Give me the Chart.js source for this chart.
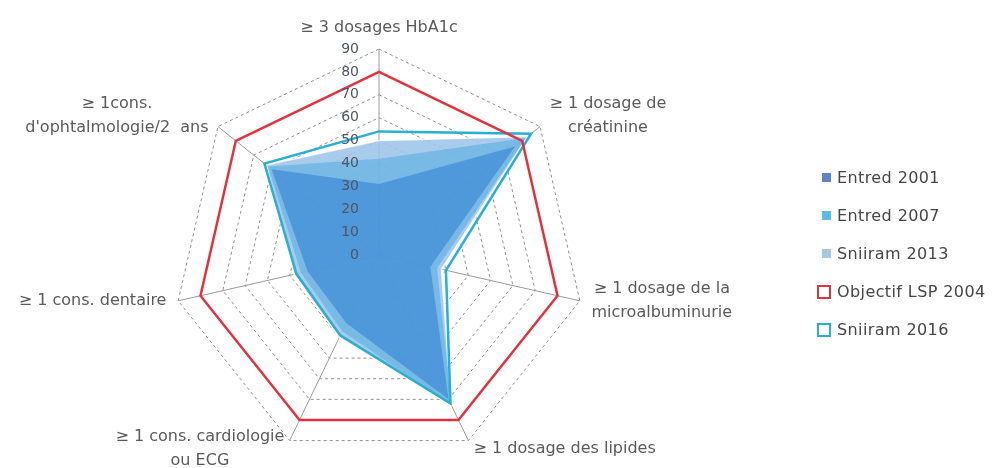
<!DOCTYPE html>
<html>
<head>
<meta charset="utf-8">
<script src="https://cdn.jsdelivr.net/npm/chart.js@4.4.1/dist/chart.umd.min.js"></script>
<style>
  html, body { margin: 0; padding: 0; background: #fff; }
  #wrap { position: relative; width: 998px; height: 468px; }
  #legend { position: absolute; left: 815px; top: 159px; font: 16px 'DejaVu Sans', sans-serif;
            color: #454545; letter-spacing: 0.4px; }
  .item { position: relative; height: 38px; line-height: 38px; padding-left: 22px; white-space: nowrap; }
  .item i { position: absolute; top: 50%; box-sizing: border-box; }
  .item i.solid { left: 7px; width: 9px; height: 9px; margin-top: -5px; }
  .item i.open  { left: 2px; width: 14px; height: 14px; margin-top: -7px; background: #fff; border: 2.5px solid; }
</style>
</head>
<body>
<div id="wrap">
  <canvas id="radar" width="998" height="468"></canvas>
  <div id="legend"></div>
</div>
<script>
// ─── Data ─────────────────────────────────────────────────────────────────────
const AXES = [
    ["≥ 3 dosages HbA1c"],
    ["≥ 1 dosage de", "créatinine"],
    ["≥ 1 dosage de la", "microalbuminurie"],
    ["≥ 1 dosage des lipides"],
    ["≥ 1 cons. cardiologie", "ou ECG"],
    ["≥ 1 cons. dentaire"],
    ["≥ 1cons.", "d'ophtalmologie/2  ans"]
];
const TICKS        = [0, 10, 20, 30, 40, 50, 60, 70, 80, 90];
const ENTRED_2001  = [31, 76, 23, 70, 33, 32, 60];
const ENTRED_2007  = [42, 82, 26, 73, 37, 35, 62];
const SNIIRAM_2013 = [50, 83, 28, 73, 40, 38, 63];
const OBJECTIF_LSP = [80, 80, 80, 80, 80, 80, 80];
const SNIIRAM_2016 = [54, 85, 30, 72, 39, 37, 64];

// ─── Style ────────────────────────────────────────────────────────────────────
const FONT      = "'DejaVu Sans', sans-serif";
const TEXT_GREY = "#5a5a5a";
const RED       = "#e2333d";
const CYAN      = "#27afd4";

// draws axis names and the 0–90 value labels (left of the vertical axis)
const labelsPlugin = {
    id: "radarText",
    afterDatasetsDraw(chart) {
        const c = chart.ctx;
        const r = chart.scales.r;
        c.save();

        // value labels
        c.font = "14px " + FONT;
        c.fillStyle = "#4d5566";
        c.textAlign = "right";
        c.textBaseline = "middle";
        TICKS.forEach(v => {
            const y = r.yCenter - r.getDistanceFromCenterForValue(v);
            c.fillText(String(v), r.xCenter - 20, y);
        });

        // point labels, lines centred inside their block
        c.font = "16px " + FONT;
        c.fillStyle = TEXT_GREY;
        c.textAlign = "center";
        const lineH = 24;
        chart.data.labels.forEach((lines, i) => {
            const p = r.getPointPosition(i, r.drawingArea + 12);
            const a = r.getIndexAngle(i);
            const s = Math.sin(a), co = Math.cos(a);
            const w = Math.max(...lines.map(t => c.measureText(t).width));
            let cx = p.x;
            if (s > 0.1) cx = p.x + w / 2;
            else if (s < -0.1) cx = p.x - w / 2;
            const cy = co > 0.9 ? p.y - 9 : p.y - 3;
            const top = cy - (lines.length - 1) * lineH / 2;
            lines.forEach((t, k) => c.fillText(t, cx, top + k * lineH));
        });
        c.restore();
    }
};

const chart = new Chart(document.getElementById("radar"), {
    type: "radar",
    plugins: [labelsPlugin],
    data: {
        labels: AXES,
        datasets: [
            {
                label: "Entred 2001",
                data: ENTRED_2001,
                backgroundColor: "rgba(40,120,205,0.5)",
                borderWidth: 0,
                fill: true,
                order: 3
            },
            {
                label: "Entred 2007",
                data: ENTRED_2007,
                backgroundColor: "rgba(80,170,225,0.55)",
                borderWidth: 0,
                fill: true,
                order: 4
            },
            {
                label: "Sniiram 2013",
                data: SNIIRAM_2013,
                backgroundColor: "rgba(160,198,234,0.9)",
                borderColor: "rgba(255,255,255,0.85)",
                borderWidth: 1.5,
                fill: true,
                order: 5
            },
            {
                label: "Objectif LSP 2004",
                data: OBJECTIF_LSP,
                borderColor: RED,
                backgroundColor: "rgba(0,0,0,0)",
                borderWidth: 2.5,
                fill: false,
                order: 1
            },
            {
                label: "Sniiram 2016",
                data: SNIIRAM_2016,
                borderColor: CYAN,
                backgroundColor: "rgba(0,0,0,0)",
                borderWidth: 2.5,
                fill: false,
                order: 2
            }
        ]
    },
    options: {
        responsive: false,
        animation: false,
        devicePixelRatio: 1,
        elements: { point: { radius: 0, hoverRadius: 0 }, line: { tension: 0 } },
        // right side kept free for the legend
        layout: { padding: { left: 0, right: 240, top: 49, bottom: 7 } },
        scales: {
            r: {
                min: 0,
                max: 90,
                ticks: { stepSize: 10, display: false },
                pointLabels: { display: false },
                grid: { color: "#8f8f8f", lineWidth: 1 },
                border: { dash: [3, 3] },
                angleLines: { color: "#9a9a9a", lineWidth: 1 }
            }
        },
        plugins: {
            tooltip: { enabled: false },
            legend: { display: false }
        }
    }
});

// ─── Legend (HTML) ────────────────────────────────────────────────────────────
const legendSwatch = ["#5b86c2", "#5bbde6", "#a6c6e6", RED, CYAN];
const legendEl = document.getElementById("legend");
chart.data.datasets.forEach((ds, i) => {
    const row = document.createElement("div");
    row.className = "item";
    const box = document.createElement("i");
    if (i < 3) { box.className = "solid"; box.style.background = legendSwatch[i]; }
    else       { box.className = "open";  box.style.borderColor = legendSwatch[i]; }
    row.appendChild(box);
    row.appendChild(document.createTextNode(ds.label));
    legendEl.appendChild(row);
});
</script>
</body>
</html>
